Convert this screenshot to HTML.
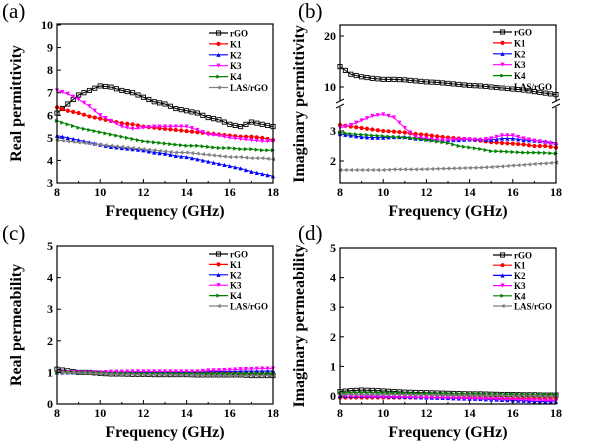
<!DOCTYPE html>
<html><head><meta charset="utf-8"><style>
body{margin:0;background:#fff;}
svg{display:block;}
</style></head><body>
<svg id="chart" width="600" height="444" viewBox="0 0 600 444"></svg>
<script>
const freqs=[8,8.5,9,9.5,10,10.5,11,11.5,12,12.5,13,13.5,14,14.5,15,15.5,16,16.5,17,17.5,18];
const seriesNames=["rGO","K1","K2","K3","K4","LAS/rGO"];
const xTicks=[8,10,12,14,16,18];
// panel a: real permittivity
const aRGO=[6.1,6.5,6.9,7.1,7.3,7.25,7.1,7.0,6.8,6.6,6.5,6.3,6.2,6.1,5.9,5.8,5.6,5.5,5.7,5.6,5.5];
const aK1=[6.35,6.2,6.1,5.95,5.85,5.75,5.65,5.6,5.5,5.45,5.4,5.35,5.3,5.25,5.2,5.15,5.1,5.05,5.05,5.0,4.9];
const aK2=[5.1,5.0,4.9,4.8,4.7,4.6,4.55,4.5,4.45,4.35,4.3,4.2,4.15,4.05,3.95,3.85,3.75,3.65,3.5,3.4,3.3];
const aK3=[7.1,6.95,6.7,6.4,6.0,5.75,5.5,5.4,5.45,5.5,5.5,5.5,5.5,5.35,5.15,5.1,5.0,4.95,4.9,4.85,4.85];
const aK4=[5.75,5.6,5.45,5.35,5.25,5.15,5.05,4.95,4.85,4.8,4.75,4.7,4.65,4.65,4.6,4.55,4.55,4.5,4.5,4.45,4.45];
const aLAS=[4.9,4.85,4.8,4.75,4.7,4.65,4.6,4.55,4.5,4.45,4.4,4.35,4.35,4.3,4.25,4.2,4.15,4.15,4.1,4.1,4.05];
const aTicks=[3,4,5,6,7,8,9,10];
// panel b: imaginary permittivity
const bRGO=[14.0,12.5,12.0,11.7,11.5,11.5,11.4,11.2,11.0,10.9,10.7,10.5,10.3,10.2,10.0,9.8,9.6,9.4,9.1,8.8,8.5];
const bK1=[3.2,3.15,3.1,3.05,3.0,2.98,2.95,2.9,2.87,2.82,2.78,2.75,2.72,2.68,2.63,2.6,2.58,2.55,2.5,2.5,2.45];
const bK2=[2.9,2.85,2.8,2.78,2.78,2.8,2.8,2.75,2.72,2.7,2.7,2.7,2.72,2.72,2.7,2.75,2.75,2.7,2.68,2.65,2.6];
const bK3=[3.1,3.2,3.35,3.5,3.55,3.45,3.1,2.8,2.75,2.7,2.7,2.72,2.72,2.7,2.75,2.85,2.85,2.75,2.68,2.62,2.55];
const bK4=[2.95,2.9,2.88,2.85,2.83,2.8,2.78,2.75,2.7,2.65,2.6,2.5,2.45,2.4,2.33,2.32,2.3,2.28,2.28,2.27,2.25];
const bLAS=[1.7,1.7,1.7,1.7,1.7,1.72,1.72,1.72,1.73,1.74,1.75,1.76,1.77,1.78,1.8,1.82,1.85,1.87,1.9,1.92,1.95];
const bTicks=[2,3,10,20];
// panel c: real permeability
const cRGO=[1.1,1.05,1.0,1.0,0.97,0.95,0.95,0.94,0.94,0.93,0.93,0.93,0.93,0.92,0.92,0.92,0.92,0.92,0.9,0.9,0.9];
const cK1=[1.0,1.0,1.0,0.99,0.99,0.99,0.99,0.99,0.99,0.99,0.99,0.99,0.99,0.99,0.99,0.99,0.99,0.98,0.98,0.98,0.98];
const cK2=[1.0,1.0,1.0,1.0,1.0,1.0,1.0,1.0,1.0,1.0,1.0,1.0,1.0,1.0,1.02,1.03,1.03,1.04,1.04,1.04,1.05];
const cK3=[1.0,1.0,1.0,1.0,1.0,1.02,1.02,1.03,1.03,1.03,1.03,1.03,1.03,1.03,1.06,1.07,1.08,1.1,1.11,1.12,1.12];
const cK4=[1.0,1.0,0.99,0.99,0.98,0.97,0.97,0.97,0.97,0.97,0.97,0.97,0.97,0.97,0.97,0.97,0.97,0.97,0.97,0.97,0.97];
const cLAS=[1.0,0.99,0.98,0.97,0.96,0.95,0.94,0.94,0.93,0.93,0.93,0.92,0.92,0.92,0.91,0.91,0.91,0.9,0.9,0.9,0.9];
const cTicks=[0,1,2,3,4,5];
// panel d: imaginary permeability
const dRGO=[0.15,0.18,0.2,0.19,0.17,0.15,0.13,0.12,0.11,0.1,0.09,0.08,0.07,0.07,0.06,0.05,0.05,0.04,0.04,0.03,0.03];
const dK1=[-0.05,-0.05,-0.05,-0.05,-0.05,-0.05,-0.05,-0.05,-0.05,-0.05,-0.05,-0.06,-0.06,-0.07,-0.07,-0.08,-0.08,-0.09,-0.09,-0.1,-0.1];
const dK2=[0,0,0,0,-0.01,-0.02,-0.03,-0.04,-0.05,-0.06,-0.07,-0.08,-0.09,-0.1,-0.12,-0.13,-0.15,-0.16,-0.18,-0.19,-0.2];
const dK3=[0,0,-0.01,-0.02,-0.03,-0.03,-0.04,-0.05,-0.05,-0.06,-0.06,-0.07,-0.08,-0.09,-0.1,-0.11,-0.12,-0.13,-0.14,-0.15,-0.15];
const dK4=[0.1,0.12,0.12,0.12,0.11,0.1,0.1,0.09,0.09,0.08,0.08,0.07,0.07,0.07,0.06,0.06,0.06,0.05,0.05,0.05,0.05];
const dLAS=[0.05,0.06,0.06,0.06,0.05,0.05,0.05,0.04,0.04,0.04,0.03,0.03,0.03,0.02,0.02,0.02,0.01,0.01,0.01,0,0];
const dTicks=[0,1,2,3,4,5];

const colors=["#000","#ff0000","#0000ff","#ff00ff","#008000","#808080"];
const NS="http://www.w3.org/2000/svg";
const svg=document.getElementById('chart');
function mk(tag,attrs,parent){const e=document.createElementNS(NS,tag);for(const k in attrs)e.setAttribute(k,attrs[k]);
  if(tag==='text'){e.style.fontFamily='"Liberation Serif","DejaVu Serif",serif';e.style.fontWeight=attrs['font-weight']||'bold';}
  (parent||svg).appendChild(e);return e;}
function marker(g,type,x,y,c){
  const s=2.1;let e;
  if(type===0){e=mk('rect',{x:x-s,y:y-s,width:2*s,height:2*s,fill:'none',stroke:c,'stroke-width':0.9},g);}
  else if(type===1){e=mk('circle',{cx:x,cy:y,r:s,fill:c},g);}
  else{let p;
    if(type===2)p=[[x,y-s],[x-s,y+s],[x+s,y+s]];
    else if(type===3)p=[[x,y+s],[x-s,y-s],[x+s,y-s]];
    else if(type===4)p=[[x+s,y],[x-s,y-s],[x-s,y+s]];
    else p=[[x-s,y],[x+s,y-s],[x+s,y+s]];
    e=mk('polygon',{points:p.map(q=>q.join(',')).join(' '),fill:c},g);}
  
  
}
function panel(o){
  const g=mk('g',{});
  
  
  const X=f=>o.x0+(f-8)/10*(o.x1-o.x0);
  const Y=o.Y;
  const lab=mk('text',{x:o.lx,y:o.ly,'font-size':21,'font-weight':'normal'},g);lab.textContent='('+o.id+')';
  
  o.data.forEach((arr,i)=>{
    const sg=mk('g',{},g);
    
    
    mk('polyline',{points:arr.map((v,j)=>X(freqs[j])+','+Y(v)).join(' '),fill:'none',stroke:colors[i],'stroke-width':1},sg);
    arr.forEach((v,j)=>{marker(sg,i,X(freqs[j]),Y(v),colors[i]);
      if(j<arr.length-1){marker(sg,i,(X(freqs[j])+X(freqs[j+1]))/2,(Y(v)+Y(arr[j+1]))/2,colors[i]);}});
  });
  const fr=mk('rect',{x:o.x0,y:o.yt,width:o.x1-o.x0,height:o.yb-o.yt,fill:'none',stroke:'#000','stroke-width':1.2},g);
  
  xTicks.forEach(t=>{mk('line',{x1:X(t),x2:X(t),y1:o.yb,y2:o.yb-4,stroke:'#000'},g);
    if(t<18)mk('line',{x1:X(t+1),x2:X(t+1),y1:o.yb,y2:o.yb-2,stroke:'#000'},g);
    const tx=mk('text',{x:X(t),y:o.yb+13,'font-size':12,'text-anchor':'middle'},g);tx.textContent=t;
    });
  o.ticks.forEach(t=>{mk('line',{x1:o.x0,x2:o.x0+4,y1:Y(t),y2:Y(t),stroke:'#000'},g);
    const tx=mk('text',{x:o.x0-4,y:Y(t)+4,'font-size':12,'text-anchor':'end'},g);tx.textContent=t;
    });
  const xt=mk('text',{x:(o.x0+o.x1)/2,y:o.yb+33,'font-size':16,'text-anchor':'middle'},g);xt.textContent='Frequency (GHz)';
  
  const yc=(o.yt+o.yb)/2;
  const yt=mk('text',{x:o.x0-36,y:yc,'font-size':16,'text-anchor':'middle',transform:`rotate(-90 ${o.x0-36} ${yc})`},g);yt.textContent=o.ytitle;
  
  const lg=mk('g',{},g);
  seriesNames.forEach((n,i)=>{const yy=o.legY+i*o.legDy;
    mk('line',{x1:o.legX,x2:o.legX+19,y1:yy,y2:yy,stroke:colors[i],'stroke-width':1.2},lg);
    marker(lg,i,o.legX+9.5,yy,colors[i]);
    const t=mk('text',{x:o.legX+21,y:yy+3.5,'font-size':9},lg);t.textContent=n;
    });
  return g;
}
panel({id:'a',x0:57,x1:273,yt:24,yb:183,lx:2,ly:18,ticks:aTicks,ytitle:'Real permittivity',
  Y:v=>183-(v-3)/7*158,data:[aRGO,aK1,aK2,aK3,aK4,aLAS],legX:209,legY:33,legDy:10.9});
const bY=v=>v>=6.5?(87-(v-10)*5.1):(161-(v-2)*30);
const gb=panel({id:'b',x0:340,x1:556,yt:25,yb:183,lx:298,ly:18,ticks:bTicks,ytitle:'Imaginary permittivity',
  Y:bY,data:[bRGO,bK1,bK2,bK3,bK4,bLAS],legX:493,legY:32,legDy:10.9});
[340,556].forEach(x=>{mk('rect',{x:x-4,y:101,width:8,height:6,fill:'#fff'},gb);
  mk('line',{x1:x-4,y1:103,x2:x+4,y2:99,stroke:'#000'},gb);mk('line',{x1:x-4,y1:108,x2:x+4,y2:104,stroke:'#000'},gb);});
panel({id:'c',x0:57,x1:273,yt:246,yb:404,lx:2,ly:240,ticks:cTicks,ytitle:'Real permeability',
  Y:v=>404-v/5*158,data:[cRGO,cK1,cK2,cK3,cK4,cLAS],legX:209,legY:254,legDy:10.4});
panel({id:'d',x0:340,x1:556,yt:248,yb:404,lx:298,ly:240,ticks:dTicks,ytitle:'Imaginary permeability',
  Y:v=>396-v*29.6,data:[dRGO,dK1,dK2,dK3,dK4,dLAS],legX:493,legY:255,legDy:10.2});
</script>
</body></html>
